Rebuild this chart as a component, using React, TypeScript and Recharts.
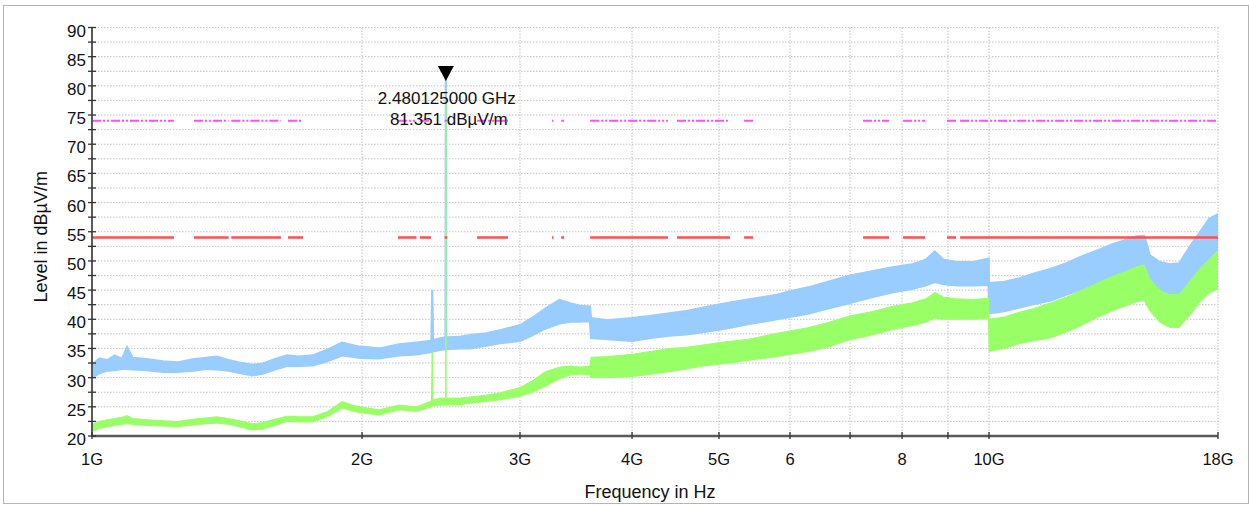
import React from 'react';
import { ComposedChart, Area, Line, XAxis, YAxis, CartesianGrid, ReferenceDot, Label } from 'recharts';

// Frequencies in GHz
const freqs = [
  1.0, 1.02, 1.04, 1.06, 1.08, 1.094, 1.11, 1.15, 1.2, 1.244, 1.3, 1.34, 1.378, 1.42, 1.46, 1.51, 1.55, 1.6, 1.65, 1.7,
  1.763, 1.83, 1.9, 1.95, 1.99, 2.09, 2.2, 2.3, 2.39, 2.395, 2.4, 2.45, 2.478, 2.480125, 2.482, 2.57, 2.64, 2.75, 2.85, 3.0,
  3.1, 3.2, 3.32, 3.42, 3.5, 3.59, 3.6, 3.75, 4.0, 4.2, 4.4, 4.6, 4.8, 5.0, 5.2, 5.4, 5.6, 5.8, 6.0, 6.3,
  6.6, 7.0, 7.4, 7.8, 8.2, 8.5, 8.7, 8.9, 9.2, 9.6, 9.99, 10.0, 10.4, 10.8, 11.2, 11.7, 12.2, 12.7, 13.2, 13.7,
  14.2, 14.6, 14.9, 15.1, 15.5, 15.9, 16.3, 16.8, 17.2, 17.6, 18.0,
];
// Peak trace (blue) envelope, dBµV/m
const peakLow = [
  30.0, 30.8, 31.2, 31.3, 31.5, 31.5, 31.4, 31.3, 31.0, 31.0, 31.2, 31.5, 31.4, 31.2, 30.8, 30.4, 30.7, 31.4, 32.0, 32.0,
  32.1, 32.8, 33.8, 33.6, 33.4, 33.3, 33.8, 34.0, 34.4, 34.4, 34.5, 34.8, 34.9, 34.9, 34.9, 35.0, 35.0, 35.5, 35.9, 36.3,
  37.3, 38.4, 39.3, 39.6, 39.6, 39.7, 36.8, 36.6, 36.3, 36.8, 37.2, 37.4, 37.8, 38.2, 38.7, 39.2, 39.6, 40.0, 40.4, 41.0,
  41.8, 42.8, 43.8, 44.6, 45.2, 45.8, 46.4, 46.0, 45.8, 45.8, 45.9, 41.0, 41.4, 42.0, 42.6, 43.2, 44.2, 45.2, 46.2, 47.2,
  48.0, 48.4, 48.6, 46.5, 44.8, 44.2, 44.3, 46.8, 48.8, 50.0, 50.8,
];
const peakHigh = [
  32.2, 33.3, 33.0, 33.8, 33.2, 35.2, 33.4, 33.2, 32.8, 32.6, 33.2, 33.4, 33.6, 33.0, 32.6, 32.2, 32.4, 33.2, 33.8, 33.6,
  33.8, 34.8, 36.0, 35.6, 35.3, 35.0, 35.7, 36.0, 36.3, 45.0, 36.4, 36.8, 36.9, 81.351, 36.9, 37.0, 37.3, 37.6, 38.1, 39.0,
  40.3, 41.8, 43.3, 42.7, 42.3, 42.2, 40.2, 39.8, 40.2, 40.6, 41.0, 41.4, 42.0, 42.5, 43.0, 43.4, 43.8, 44.2, 44.8, 45.5,
  46.4, 47.5, 48.2, 48.9, 49.4, 50.2, 51.6, 50.2, 49.8, 49.8, 50.4, 46.2, 46.4, 47.0, 47.8, 48.6, 49.6, 50.8, 51.8, 52.8,
  53.6, 54.2, 54.3, 51.0, 49.8, 49.4, 49.6, 52.8, 55.0, 57.2, 58.0,
];
// Average trace (green) envelope, dBµV/m
const avgLow = [
  20.8, 21.3, 21.6, 21.8, 22.0, 22.1, 22.0, 21.8, 21.7, 21.6, 21.9, 22.1, 22.2, 22.0, 21.6, 21.0, 21.2, 21.8, 22.5, 22.4,
  22.4, 23.3, 24.8, 24.3, 24.0, 23.6, 24.5, 24.2, 25.0, 25.0, 25.2, 25.3, 25.3, 25.3, 25.3, 25.4, 25.6, 25.9, 26.2, 26.8,
  27.5, 28.5, 29.8, 30.5, 30.6, 30.5, 30.0, 30.0, 30.2, 30.6, 31.0, 31.5, 32.0, 32.3, 32.6, 33.0, 33.3, 33.6, 34.0, 34.5,
  35.2, 36.5, 37.3, 38.2, 38.9, 39.5, 40.2, 40.0, 40.0, 40.0, 40.2, 34.5, 35.0, 35.8, 36.3, 36.8, 37.8, 39.0, 40.3, 41.4,
  42.3, 43.0, 43.2, 41.5, 39.5, 38.6, 38.6, 41.0, 43.0, 44.5, 45.2,
];
const avgHigh = [
  22.0, 22.5, 22.8, 23.0, 23.2, 23.5, 23.0, 22.8, 22.6, 22.5, 22.9, 23.1, 23.3, 23.0, 22.6, 22.1, 22.3, 22.9, 23.4, 23.3,
  23.3, 24.2, 25.9, 25.3, 25.0, 24.5, 25.3, 25.0, 26.0, 34.5, 26.2, 26.5, 26.5, 78.0, 26.5, 26.5, 26.7, 27.0, 27.4, 28.3,
  29.5, 31.0, 31.8, 32.0, 31.8, 32.0, 33.5, 33.6, 34.0, 34.5, 35.0, 35.2, 35.6, 36.0, 36.3, 36.6, 37.1, 37.6, 38.0, 38.6,
  39.4, 40.6, 41.3, 42.2, 42.8, 43.5, 44.6, 43.8, 43.5, 43.4, 43.6, 40.0, 40.4, 41.2, 41.8, 42.8, 43.8, 45.0, 46.2, 47.3,
  48.2, 49.0, 49.3, 47.0, 45.0, 44.2, 44.3, 46.8, 48.8, 50.3, 51.8,
];

// Limit lines (drawn segments, GHz)
const limitSegments = [
  [1.0, 1.234], [1.299, 1.42], [1.43, 1.624], [1.654, 1.719], [2.193, 2.3], [2.32, 2.387], [2.472, 2.49],
  [2.687, 2.909], [3.257, 3.27], [3.335, 3.36], [3.592, 4.387], [4.489, 5.144], [5.333, 5.457],
  [7.237, 7.735], [8.021, 8.485], [8.978, 9.189], [9.284, 18.0],
];
const peakLimit = 74;
const avgLimit = 54;

const xTicks = [1, 2, 3, 4, 5, 6, 7, 8, 9, 10, 18];
const xTickLabels = ['1G', '2G', '3G', '4G', '5G', '6', '', '8', '', '10G', '18G'];
const yTicks = [20, 22.5, 25, 27.5, 30, 32.5, 35, 37.5, 40, 42.5, 45, 47.5, 50, 52.5, 55, 57.5, 60, 62.5, 65, 67.5, 70, 72.5, 75, 77.5, 80, 82.5, 85, 87.5, 90];

const markerFreq = 2.480125;
const markerLevel = 81.351;
const markerText1 = '2.480125000 GHz';
const markerText2 = '81.351 dBµV/m';

const traceData = freqs.map((f, i) => ({ f, peak: [peakLow[i], peakHigh[i]], avg: [avgLow[i], avgHigh[i]] }));

function buildLimit(level: number) {
  const out: { f: number; v: number | null }[] = [];
  limitSegments.forEach(([s, e], i) => {
    out.push({ f: s, v: level });
    out.push({ f: e, v: level });
    if (i < limitSegments.length - 1) out.push({ f: (e + limitSegments[i + 1][0]) / 2, v: null });
  });
  return out;
}
const peakLimitData = buildLimit(peakLimit);
const avgLimitData = buildLimit(avgLimit);

const FONT = '"Liberation Sans", Arial, sans-serif';

const YTick = (props: any) => {
  const { x, y, payload } = props;
  const major = payload.value % 5 === 0;
  return (
    <g>
      <line x1={x - 4} x2={x + 4} y1={y} y2={y} stroke="#333" strokeWidth={1.3} />
      {major && (
        <text x={x - 6} y={y + 9} textAnchor="end" fontSize={17} fill="#111" fontFamily={FONT}>
          {payload.value}
        </text>
      )}
    </g>
  );
};

const XTick = (props: any) => {
  const { x, y, payload } = props;
  return (
    <g>
      <line x1={x} x2={x} y1={y - 4} y2={y + 3} stroke="#333" strokeWidth={1.3} />
      <text x={x} y={y + 29} textAnchor="middle" fontSize={16.5} fill="#111" fontFamily={FONT}>
        {xTickLabels[xTicks.indexOf(payload.value)] ?? ''}
      </text>
    </g>
  );
};

const MarkerShape = (props: any) => {
  const { cx, cy } = props;
  return (
    <g>
      <polygon points={`${cx - 8},${cy - 12} ${cx + 8},${cy - 12} ${cx},${cy + 3}`} fill="#000" />
      <text x={cx + 1} y={cy + 26} textAnchor="middle" fontSize={17} fill="#111" fontFamily={FONT}>{markerText1}</text>
      <text x={cx + 3} y={cy + 47} textAnchor="middle" fontSize={17} fill="#111" fontFamily={FONT}>{markerText2}</text>
    </g>
  );
};

export default function App() {
  return (
    <div style={{ position: 'absolute', left: 0, top: 0, width: 1249, height: 506, background: '#fff' }}>
      <div
        style={{
          position: 'absolute', left: 3, top: 5, width: 1246, height: 499, boxSizing: 'border-box',
          border: '1.5px solid #b4b4b4',
        }}
      />
      <div style={{ position: 'absolute', left: 0, top: 0 }}>
        <ComposedChart
          width={1249}
          height={506}
          data={traceData}
          margin={{ top: 27.5, right: 31, bottom: 40, left: 0 }}
          style={{ fontFamily: FONT }}
        >
          <CartesianGrid stroke="#c4c4c4" strokeDasharray="1.5 1.5" strokeWidth={1} />
          <XAxis
            dataKey="f"
            type="number"
            scale="log"
            domain={[1, 18]}
            allowDataOverflow
            ticks={xTicks}
            interval={0}
            tickSize={0}
            tickMargin={0}
            tickLine={false}
            tick={<XTick />}
            height={30}
            axisLine={{ stroke: '#5a5a5a', strokeWidth: 2.5 }}
          >
            <Label
              content={(p: any) => {
                const vb = p.viewBox;
                return (
                  <text x={vb.x + vb.width / 2 - 5} y={498} textAnchor="middle" fontSize={18} fill="#111" fontFamily={FONT}>
                    Frequency in Hz
                  </text>
                );
              }}
            />
          </XAxis>
          <YAxis
            type="number"
            domain={[20, 90]}
            allowDataOverflow
            ticks={yTicks}
            interval={0}
            tickSize={0}
            tickMargin={0}
            tickLine={false}
            tick={<YTick />}
            width={92}
            axisLine={{ stroke: '#4a4a4a', strokeWidth: 1.8 }}
          >
            <Label
              content={(p: any) => {
                const vb = p.viewBox;
                const cx = 41;
                const cy = vb.y + vb.height / 2 + 5;
                return (
                  <text
                    x={cx}
                    y={cy}
                    transform={`rotate(-90, ${cx}, ${cy})`}
                    textAnchor="middle"
                    dominantBaseline="central"
                    fontSize={18}
                    fill="#111"
                    fontFamily={FONT}
                  >
                    Level in dBµV/m
                  </text>
                );
              }}
            />
          </YAxis>
          <Area
            dataKey="peak"
            type="linear"
            stroke="#99ccff"
            strokeWidth={2.2}
            fill="#99ccff"
            fillOpacity={1}
            isAnimationActive={false}
            dot={false}
            activeDot={false}
          />
          <Area
            dataKey="avg"
            type="linear"
            stroke="#99ff66"
            strokeWidth={1}
            fill="#99ff66"
            fillOpacity={1}
            isAnimationActive={false}
            dot={false}
            activeDot={false}
          />
          <Line
            data={avgLimitData}
            dataKey="v"
            type="linear"
            stroke="#ff4f4f"
            strokeWidth={2.5}
            dot={false}
            activeDot={false}
            connectNulls={false}
            isAnimationActive={false}
          />
          <Line
            data={peakLimitData}
            dataKey="v"
            type="linear"
            stroke="#ff4dff"
            strokeWidth={2}
            strokeDasharray="9 2 2 2 2 2"
            dot={false}
            activeDot={false}
            connectNulls={false}
            isAnimationActive={false}
          />
          <ReferenceDot x={markerFreq} y={markerLevel} r={0} shape={<MarkerShape />} ifOverflow="visible" />
        </ComposedChart>
      </div>
    </div>
  );
}
